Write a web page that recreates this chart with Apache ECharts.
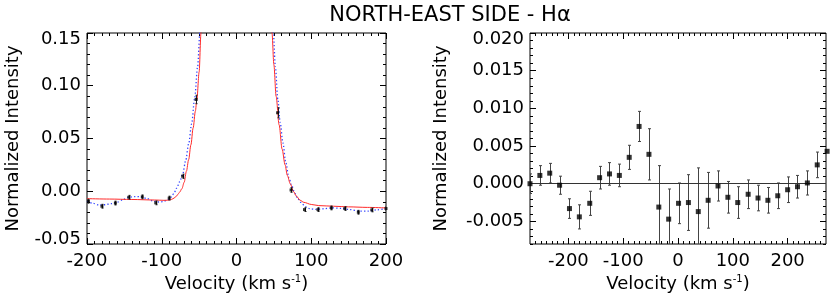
<!DOCTYPE html>
<html><head><meta charset="utf-8">
<script src="https://cdn.jsdelivr.net/npm/echarts@6/dist/echarts.min.js"></script>
<style>html,body{margin:0;padding:0;background:#fff}#c{width:830px;height:299px}</style>
</head><body><div id="c"></div>
<script>
const FONT = 'DejaVu Sans';
const TITLE = 'NORTH-EAST SIDE - H\u03b1';

// ---- Left panel: observed points ----
const leftVel = [-198, -180, -162, -144, -126, -108, -90, -72, -54, 55, 73, 91, 109, 127, 145, 163, 181, 200];
const leftVal = [-0.0095, -0.0142, -0.0112, -0.0057, -0.0053, -0.0110, -0.0065, 0.0142, 0.0870, 0.0744, 0.0012, -0.0174, -0.0174, -0.0158, -0.0164, -0.0199, -0.0177, -0.0164];
const leftErr = [0.0018, 0.0018, 0.0018, 0.0018, 0.0018, 0.0018, 0.0018, 0.0020, 0.0040, 0.0048, 0.0022, 0.0018, 0.0018, 0.0018, 0.0018, 0.0018, 0.0018, 0.0018];

// ---- Left panel: red solid model curve ----
const redVel = [-200, -170, -140, -110, -97, -92, -88, -85, -82, -79, -76, -73, -70, -67, -64, -61, -58, -55, -53, -50, -47.5, -46, null,
                46, 47.5, 50, 53, 57, 61, 65, 68, 72, 76, 80, 85, 90, 100, 110, 130, 150, 175, 200];
const redVal = [-0.0070, -0.0074, -0.0078, -0.0083, -0.0086, -0.0085, -0.0080, -0.0071, -0.0057, -0.0035, -0.0008, 0.0025, 0.0085, 0.0190, 0.0300, 0.0440, 0.0600, 0.0760, 0.0870, 0.1130, 0.1500, 0.1750, null,
                0.1750, 0.1500, 0.1200, 0.0900, 0.0630, 0.0400, 0.0250, 0.0150, 0.0070, 0.0000, -0.0045, -0.0085, -0.0105, -0.0125, -0.0136, -0.0142, -0.0148, -0.0153, -0.0158];

// ---- Left panel: blue dotted model curve ----
const blueVel = [-200, -192, -184, -176, -168, -160, -152, -144, -136, -128, -120, -112, -104, -98, -92, -88, -84, -80, -76, -72, -68, -64, -60, -56, -52, -49, -47, null,
                 47.5, 49.3, 52, 55.3, 58.5, 62, 66, 70, 74, 78, 82, 86, 92, 98, 106, 116, 128, 140, 152, 164, 176, 188, 200];
const blueVal = [-0.0095, -0.0115, -0.0130, -0.0128, -0.0118, -0.0105, -0.0080, -0.0056, -0.0050, -0.0052, -0.0068, -0.0092, -0.0102, -0.0098, -0.0080, -0.0058, -0.0025, 0.0030, 0.0090, 0.0160, 0.0290, 0.0450, 0.0640, 0.0880, 0.1180, 0.1500, 0.1750, null,
                 0.1750, 0.1500, 0.1180, 0.0870, 0.0650, 0.0460, 0.0270, 0.0130, 0.0050, -0.0020, -0.0070, -0.0105, -0.0145, -0.0165, -0.0172, -0.0166, -0.0158, -0.0162, -0.0174, -0.0188, -0.0188, -0.0176, -0.0164];

// ---- Right panel: residual points ----
const rightVel = [-270, -252, -234, -216, -198, -180, -161, -143, -125, -107, -89, -71, -53, -35, -17, 1, 19, 37, 55, 73, 91, 109, 128, 146, 164, 182, 200, 218, 236, 254, 272];
const rightVal = [0.0000, 0.0011, 0.0014, -0.0002, -0.0033, -0.0044, -0.0026, 0.0008, 0.0013, 0.0011, 0.0035, 0.0076, 0.0039, -0.0031, -0.0047, -0.0026, -0.0025, -0.0037, -0.0022, -0.0003, -0.0018, -0.0025, -0.0014, -0.0019, -0.0022, -0.0016, -0.0008, -0.0004, 0.0001, 0.0025, 0.0043];
const rightErr = [0.0013, 0.0013, 0.0013, 0.0012, 0.0013, 0.0016, 0.0016, 0.0015, 0.0015, 0.0015, 0.0016, 0.0020, 0.0034, 0.0055, 0.0040, 0.0027, 0.0037, 0.0058, 0.0037, 0.0020, 0.0021, 0.0021, 0.0019, 0.0017, 0.0017, 0.0017, 0.0017, 0.0015, 0.0016, 0.0017, 0.0017];

// ---- Tick labels ----
const leftXTicks = [-200, -100, 0, 100, 200];
const leftYTicks = [-0.05, 0.00, 0.05, 0.10, 0.15];
const rightXTicks = [-200, -100, 0, 100, 200];
const rightYTicks = [-0.005, 0.000, 0.005, 0.010, 0.015, 0.020];

function steps(a, b, s) { const out = []; const n = Math.round((b - a) / s); for (let i = 0; i <= n; i++) out.push(+(a + i * s).toFixed(6)); return out; }
const leftXMinor = steps(-200, 200, 10);
const leftYMinor = steps(-0.05, 0.15, 0.01);
const rightXMinor = steps(-260, 260, 10);
const rightYMinor = steps(-0.008, 0.020, 0.001);

const txt = { color: '#000', fontFamily: FONT, fontSize: 18 };

function axisSet(dim, gridIndex, min, max, majors, minors, fmt, name, nameGap) {
  const posMain = dim === 'x' ? 'bottom' : 'left';
  const posMirror = dim === 'x' ? 'top' : 'right';
  const base = { type: 'value', gridIndex, min, max, axisLine: { show: false, onZero: false }, splitLine: { show: false }, minorTick: { show: false } };
  const tick = (vals, len) => ({ show: true, inside: true, length: len, customValues: vals, lineStyle: { color: '#000', width: 1 } });
  const noLabel = { show: false };
  return [
    Object.assign({}, base, {
      position: posMain, axisTick: tick(majors, 6),
      axisLabel: { show: true, customValues: majors, formatter: fmt, margin: dim === 'x' ? 8 : 6, ...txt,
        rich: { t: { ...txt, padding: [12, 0, 0, 0] }, b: { ...txt, padding: [0, 0, 10, 0] } } },
      name, nameLocation: 'middle', nameGap, nameTextStyle: { ...txt, rich: { sup: { color: '#000', fontFamily: FONT, fontSize: 10, verticalAlign: 'top', padding: [0, 0, 0, 0] } } }
    }),
    Object.assign({}, base, { position: posMain, axisTick: tick(minors, 3), axisLabel: noLabel }),
    Object.assign({}, base, { position: posMirror, axisTick: tick(majors, 6), axisLabel: noLabel }),
    Object.assign({}, base, { position: posMirror, axisTick: tick(minors, 3), axisLabel: noLabel })
  ];
}

const xName = 'Velocity (km s{sup|-1})';
const yName = 'Normalized Intensity';

const xAxes = [].concat(
  axisSet('x', 0, -200, 200, leftXTicks, leftXMinor, v => String(v), xName, 26),
  axisSet('x', 1, -270, 270, rightXTicks, rightXMinor, v => String(v), xName, 26)
);
const yAxes = [].concat(
  axisSet('y', 0, -0.05, 0.15, leftYTicks, leftYMinor, v => {
    const s = v.toFixed(2); if (v === 0.15) return '{t|' + s + '}'; if (v === -0.05) return '{b|' + s + '}'; return s; }, yName, 65),
  axisSet('y', 1, -0.008, 0.020, rightYTicks, rightYMinor, v => {
    const s = v.toFixed(3); if (v === 0.020) return '{t|' + s + '}'; return s; }, yName, 80)
);

function errRender(capHalf, color) {
  return function (params, api) {
    const x = api.value(0), y = api.value(1), e = api.value(2);
    const t = api.coord([x, y + e]), b = api.coord([x, y - e]);
    const cx = Math.round(t[0]) + 0.5;
    const style = { stroke: color, lineWidth: 1 };
    return { type: 'group', children: [
      { type: 'line', shape: { x1: cx, y1: t[1], x2: cx, y2: b[1] }, style },
      { type: 'line', shape: { x1: cx - capHalf, y1: t[1], x2: cx + capHalf, y2: t[1] }, style },
      { type: 'line', shape: { x1: cx - capHalf, y1: b[1], x2: cx + capHalf, y2: b[1] }, style }
    ] };
  };
}

const zip2 = (a, b) => a.map((v, i) => [v, b[i]]);
const zip3 = (a, b, c) => a.map((v, i) => [v, b[i], c[i]]);

const option = {
  animation: false,
  backgroundColor: '#fff',
  title: { text: TITLE, left: 445, top: 0, textAlign: 'center', textStyle: { color: '#000', fontFamily: FONT, fontSize: 21, fontWeight: 'normal' } },
  grid: [
    { left: 87, top: 33, width: 299, height: 211, show: true, borderColor: '#000', borderWidth: 1, backgroundColor: 'transparent' },
    { left: 530, top: 33, width: 296, height: 211, show: true, borderColor: '#000', borderWidth: 1, backgroundColor: 'transparent' }
  ],
  xAxis: xAxes,
  yAxis: yAxes,
  series: [
    { type: 'line', xAxisIndex: 0, yAxisIndex: 0, data: zip2(redVel, redVal).map(p => p[0] === null ? '-' : p), connectNulls: false,
      showSymbol: false, smooth: 0.3, smoothMonotone: 'x', lineStyle: { color: '#ff2a2a', width: 1 }, clip: true, z: 3 },
    { type: 'line', xAxisIndex: 0, yAxisIndex: 0, data: zip2(blueVel, blueVal).map(p => p[0] === null ? '-' : p), connectNulls: false,
      showSymbol: false, smooth: 0.3, smoothMonotone: 'x', lineStyle: { color: '#3344ff', width: 1.3, type: [1.3, 2.2] }, clip: true, z: 2 },
    { type: 'custom', xAxisIndex: 0, yAxisIndex: 0, data: zip3(leftVel, leftVal, leftErr), renderItem: errRender(1, '#222'), encode: { x: 0, y: 1 }, clip: true, z: 4 },
    { type: 'scatter', xAxisIndex: 0, yAxisIndex: 0, data: zip2(leftVel, leftVal), symbol: 'rect', symbolSize: 3, itemStyle: { color: '#000' }, clip: true, z: 5 },

    { type: 'custom', xAxisIndex: 4, yAxisIndex: 4, data: zip3(rightVel, rightVal, rightErr), renderItem: errRender(1.5, '#444'), encode: { x: 0, y: 1 }, clip: true, z: 4 },
    { type: 'scatter', xAxisIndex: 4, yAxisIndex: 4, data: zip2(rightVel, rightVal), symbol: 'rect', symbolSize: 5, itemStyle: { color: '#000' }, clip: false, z: 5,
      markLine: { silent: true, symbol: 'none', label: { show: false }, lineStyle: { color: '#333', width: 1, type: 'solid' }, data: [{ yAxis: 0 }] } }
  ]
};

const chart = echarts.init(document.getElementById('c'), null, { renderer: 'canvas' });
chart.setOption(option);
</script>
</body></html>
